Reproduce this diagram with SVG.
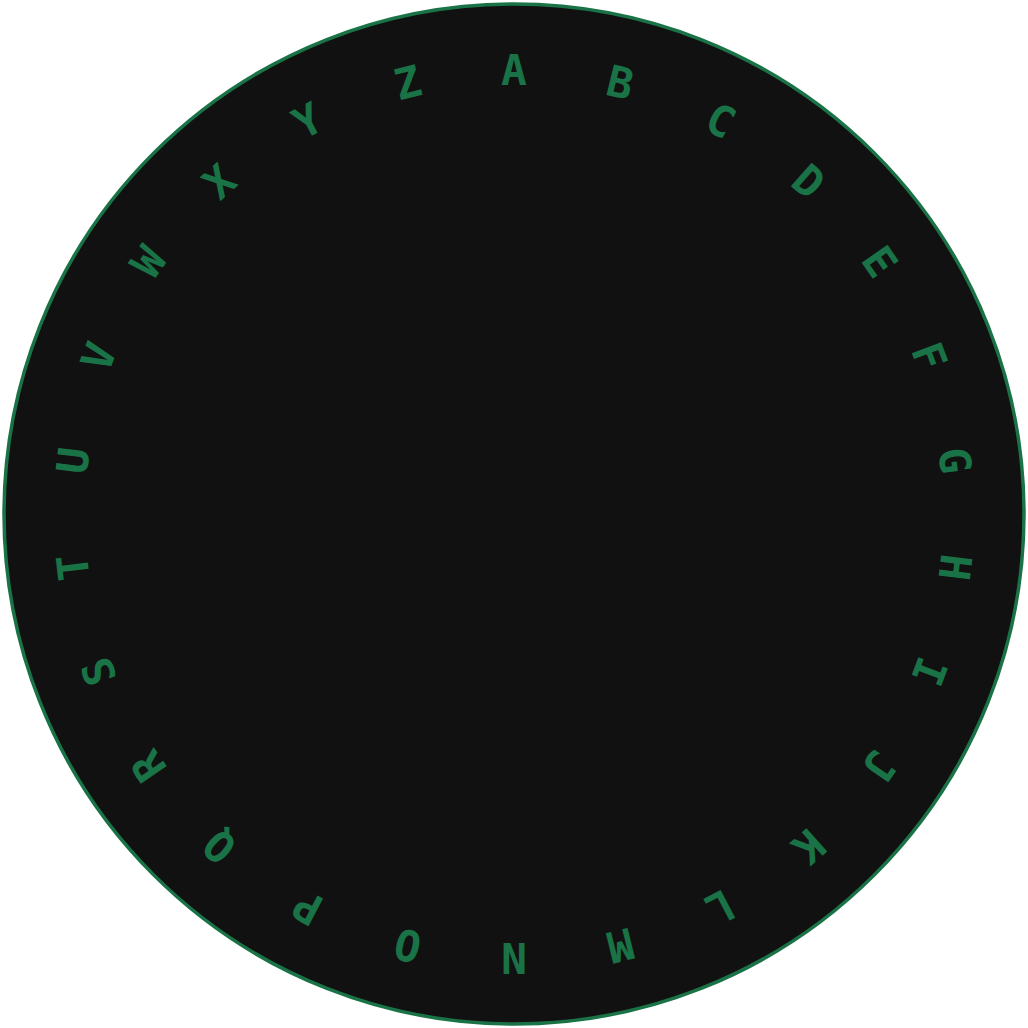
<svg xmlns="http://www.w3.org/2000/svg" width="1028" height="1028" viewBox="0 0 1028 1028">
<style>
.l{font-family:"DejaVu Sans Mono","Liberation Mono",monospace;font-weight:bold;font-size:43px;fill:#1a7346;text-anchor:middle}
</style>
<rect width="1028" height="1028" fill="#ffffff"/>
<g id="dial">
<circle cx="514" cy="514" r="510" fill="#111111" stroke="#1a7346" stroke-width="3.5"/>
</g>
<g id="letters">
<text class="l" x="514" y="85" transform="rotate(0 514 514)">A</text>
<text class="l" x="514" y="85" transform="rotate(13.846 514 514)">B</text>
<text class="l" x="514" y="85" transform="rotate(27.692 514 514)">C</text>
<text class="l" x="514" y="85" transform="rotate(41.538 514 514)">D</text>
<text class="l" x="514" y="85" transform="rotate(55.385 514 514)">E</text>
<text class="l" x="514" y="85" transform="rotate(69.231 514 514)">F</text>
<text class="l" x="514" y="85" transform="rotate(83.077 514 514)">G</text>
<text class="l" x="514" y="85" transform="rotate(96.923 514 514)">H</text>
<text class="l" x="514" y="85" transform="rotate(110.769 514 514)">I</text>
<text class="l" x="514" y="85" transform="rotate(124.615 514 514)">J</text>
<text class="l" x="514" y="85" transform="rotate(138.462 514 514)">K</text>
<text class="l" x="514" y="85" transform="rotate(152.308 514 514)">L</text>
<text class="l" x="514" y="85" transform="rotate(166.154 514 514)">M</text>
<text class="l" x="514" y="85" transform="rotate(180 514 514)">N</text>
<text class="l" x="514" y="85" transform="rotate(193.846 514 514)">O</text>
<text class="l" x="514" y="85" transform="rotate(207.692 514 514)">P</text>
<text class="l" x="514" y="85" transform="rotate(221.538 514 514)">Q</text>
<text class="l" x="514" y="85" transform="rotate(235.385 514 514)">R</text>
<text class="l" x="514" y="85" transform="rotate(249.231 514 514)">S</text>
<text class="l" x="514" y="85" transform="rotate(263.077 514 514)">T</text>
<text class="l" x="514" y="85" transform="rotate(276.923 514 514)">U</text>
<text class="l" x="514" y="85" transform="rotate(290.769 514 514)">V</text>
<text class="l" x="514" y="85" transform="rotate(304.615 514 514)">W</text>
<text class="l" x="514" y="85" transform="rotate(318.462 514 514)">X</text>
<text class="l" x="514" y="85" transform="rotate(332.308 514 514)">Y</text>
<text class="l" x="514" y="85" transform="rotate(346.154 514 514)">Z</text>
</g>
</svg>
